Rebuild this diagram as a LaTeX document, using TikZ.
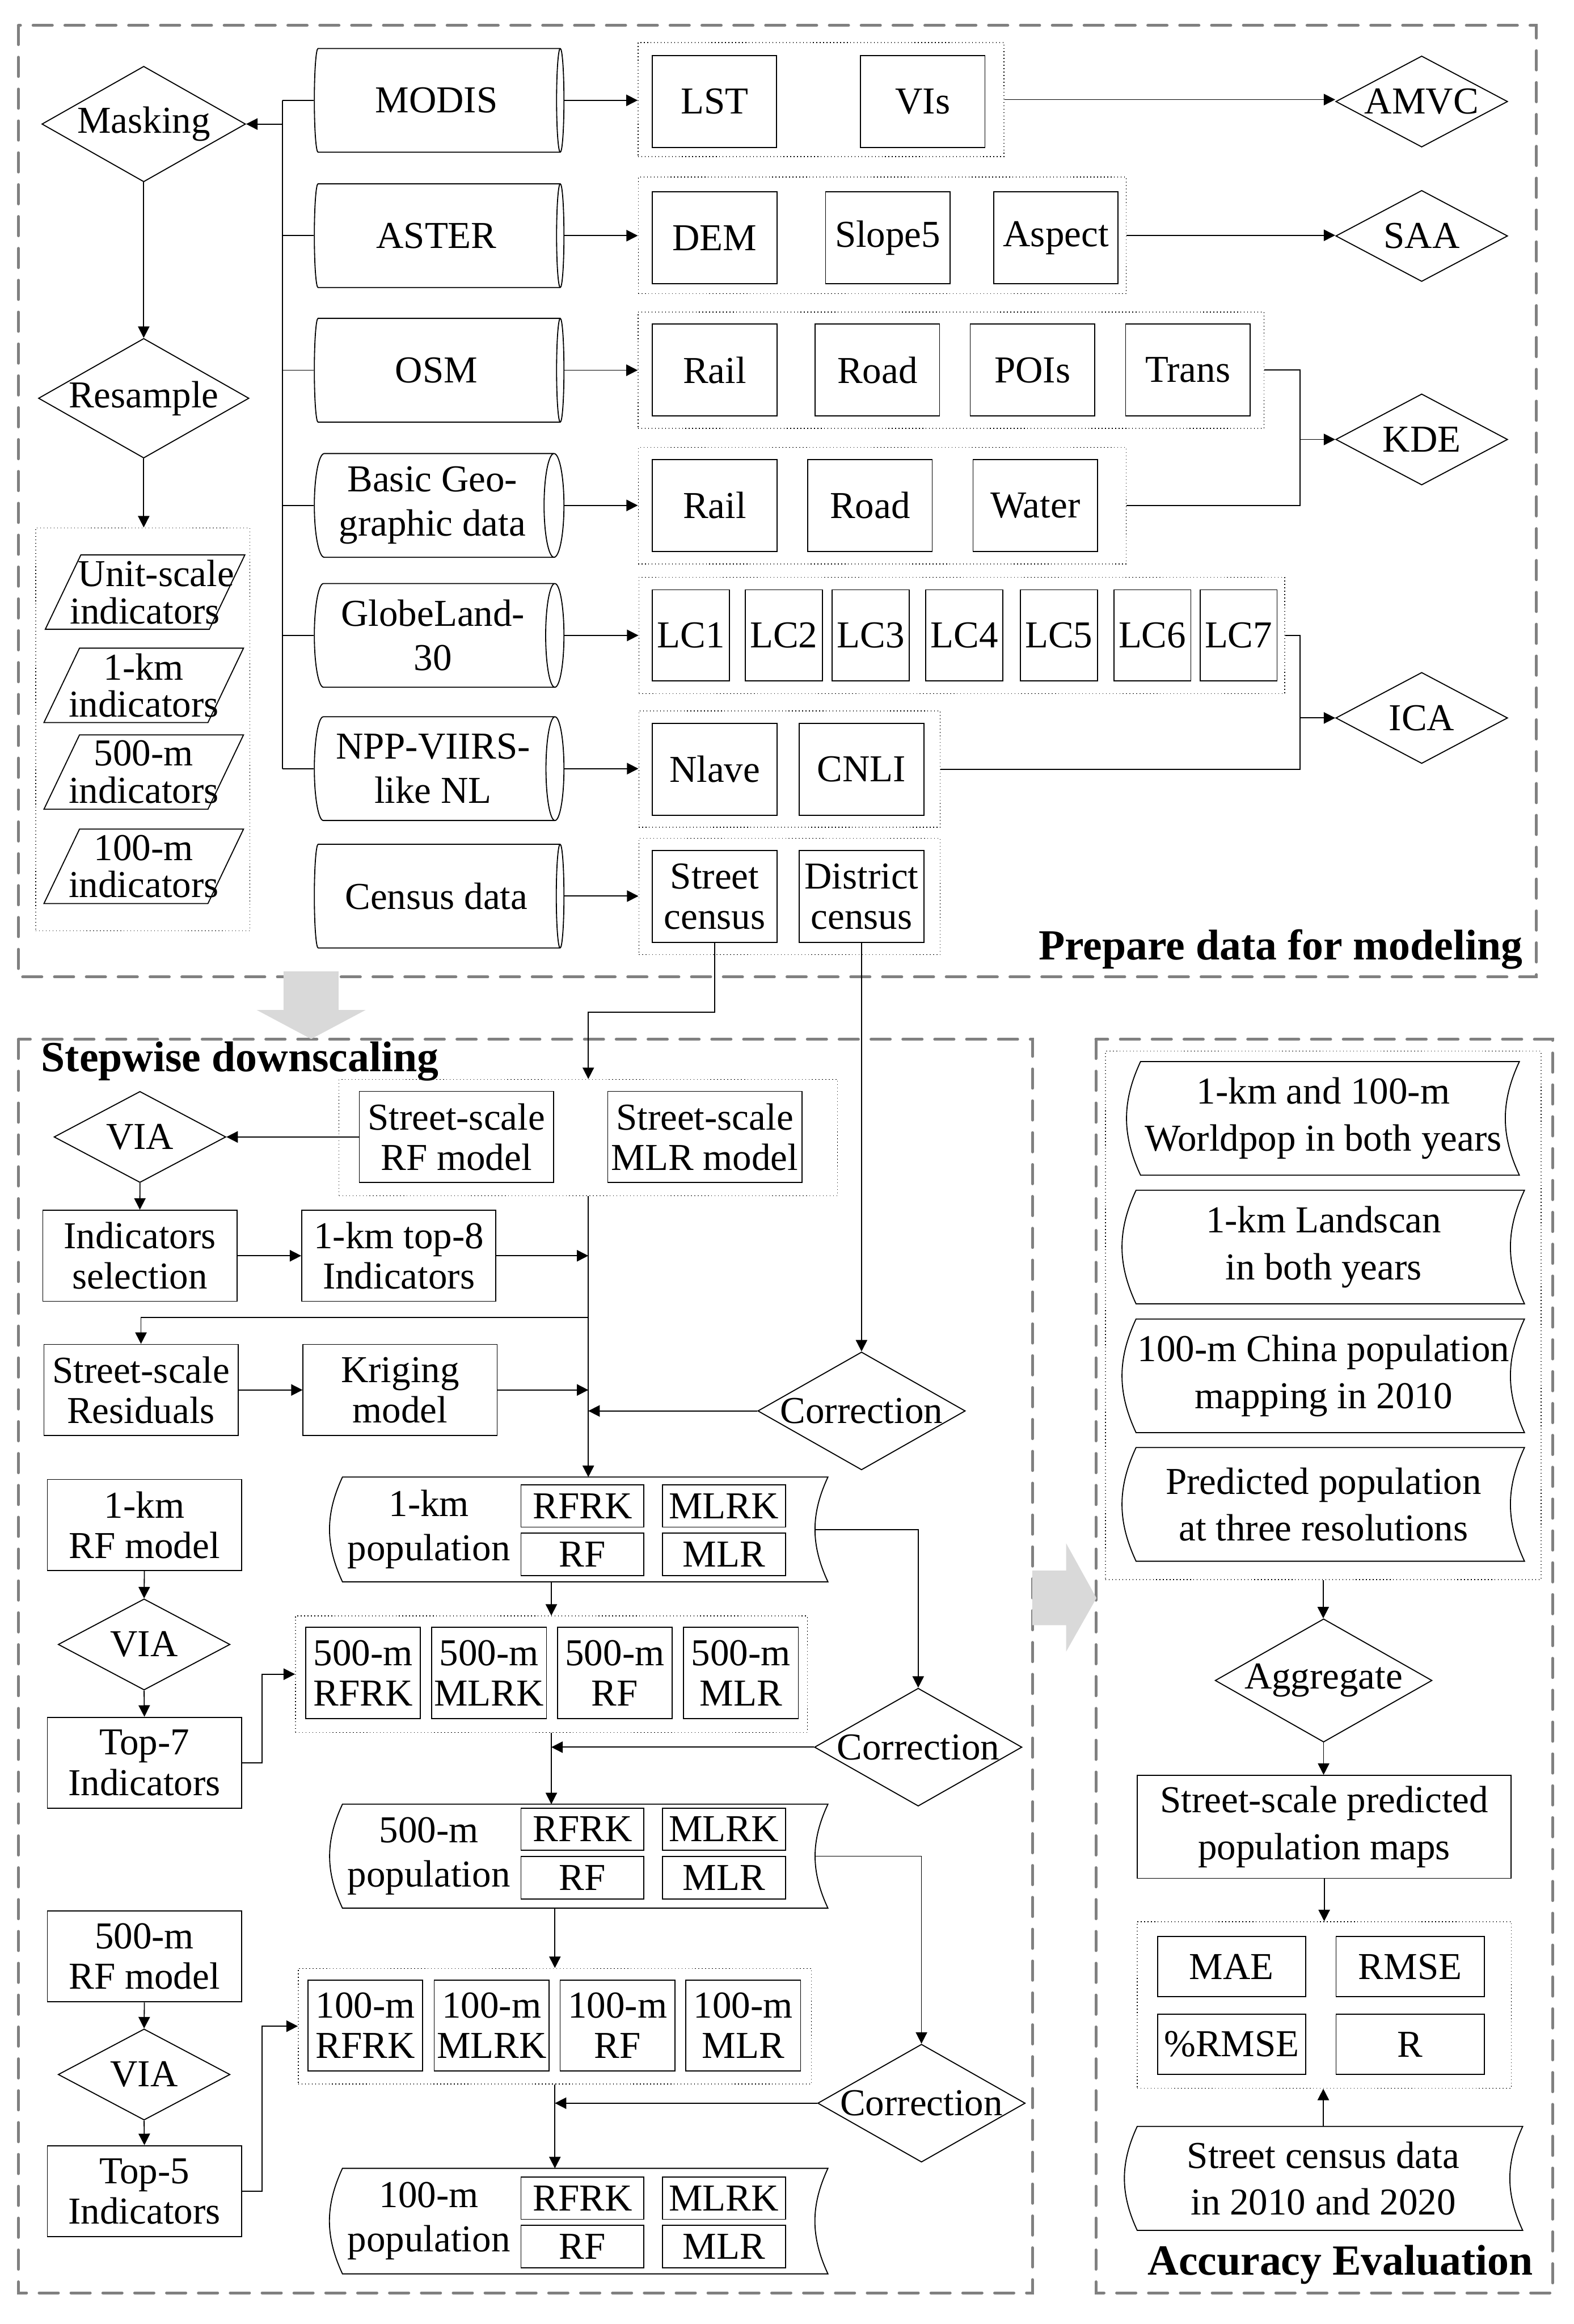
\documentclass[tikz,border=0pt]{standalone}
\usepackage{fontspec}
\setmainfont{Liberation Serif}
\usepackage{xcolor}
\usepackage{tikz}
\usetikzlibrary{shapes, shapes.geometric, arrows.meta, positioning, calc}

\newcommand{\storedframe}[1]{%
  \draw ([xshift=0.18cm]#1.north west) to[out=245,in=115] ([xshift=0.18cm]#1.south west)
    -- (#1.south east) to[out=115,in=245] (#1.north east) -- cycle;}
\newcommand{\paraframe}[1]{%
  \draw (#1.south west) -- ([xshift=0.48cm]#1.north west) -- (#1.north east)
    -- ([xshift=-0.48cm]#1.south east) -- cycle;}

\begin{document}
\begin{tikzpicture}[x=0.02cm, y=-0.02cm, line width=0.4pt,
  font=\fontsize{14.6}{15.5}\selectfont,
  outerframe/.style={draw=gray, line width=1.1pt, dash pattern=on 0.26cm off 0.17cm, line cap=round},
  box/.style={draw, rectangle, inner sep=1pt, align=center},
  dbox/.style={box, minimum width=1.68cm, minimum height=1.24cm},
  lcbox/.style={box, minimum width=1.04cm, minimum height=1.23cm},
  mbox/.style={box, minimum width=2.62cm, minimum height=1.23cm},
  rbox/.style={box, minimum width=1.55cm, minimum height=1.23cm},
  pbox/.style={box, minimum width=1.66cm, minimum height=0.57cm},
  ebox/.style={box, minimum width=2.0cm, minimum height=0.81cm},
  grp/.style={draw, densely dotted, line width=0.3pt, inner sep=0pt},
  drum/.style={cylinder, draw, aspect=0.24, minimum height=3.37cm, minimum width=1.40cm,
    inner sep=1pt, align=center, font=\fontsize{14.6}{17}\selectfont},
  decL/.style={diamond, draw, aspect=1.76, inner sep=0pt, minimum width=2.75cm, minimum height=1.56cm},
  decS/.style={diamond, draw, aspect=1.89, inner sep=0pt, minimum width=2.32cm, minimum height=1.23cm},
  para/.style={draw=none, inner sep=0pt, align=center, minimum width=2.68cm, minimum height=0.99cm,
    font=\fontsize{14.6}{14.3}\selectfont},
  lbl/.style={align=center, inner sep=0pt, font=\fontsize{14.6}{17}\selectfont},
  store/.style={draw=none, inner sep=1pt, align=center, font=\fontsize{14.6}{18}\selectfont},
  ttl/.style={inner sep=0pt, font=\fontsize{16.5}{19}\selectfont\bfseries},
  arr/.style={-{Triangle[length=4.4pt,width=4.4pt]}}]

\useasboundingbox (0,0) rectangle (1062,1568);
\fill[white] (0,0) rectangle (1062,1568);

% Section frames
\draw[outerframe] (12.4,17.1) rectangle (1037,659.1);
\draw[outerframe] (12.4,701.2) rectangle (696.8,1547);
\draw[outerframe] (739.6,701.2) rectangle (1047.8,1547);

% Prepare data for modeling
\node[decL] (mask) at (97,83.7) {Masking};
\node[decL] (resample) at (97,268.7) {Resample};
\node[grp, minimum width=2.89cm, minimum height=5.44cm] (indgrp) at (96.35,492.1) {};
\node[para] (ind1) at (97.9,399.5) {\hspace*{0.3cm}Unit-scale\\indicators};
\paraframe{ind1}
\node[para] (ind2) at (97,462.4) {1-km\\indicators};
\paraframe{ind2}
\node[para] (ind3) at (97,520.9) {500-m\\indicators};
\paraframe{ind3}
\node[para] (ind4) at (97,584.5) {100-m\\indicators};
\paraframe{ind4}

\node[drum, anchor=west] (modis) at (211.8,67.7) {MODIS};
\node[drum, anchor=west] (aster) at (211.8,159) {ASTER};
\node[drum, anchor=west] (osm) at (211.8,249.8) {OSM};
\node[drum, anchor=west] (basic) at (211.8,341) {Basic Geo-\\graphic data};
\node[drum, anchor=west] (globe) at (211.8,428.7) {GlobeLand-\\30};
\node[drum, anchor=west] (npp) at (211.8,518.6) {NPP-VIIRS-\\like NL};
\node[drum, anchor=west] (census) at (211.8,604.6) {Census data};

\node[grp, minimum width=4.94cm, minimum height=1.54cm] (g1) at (554.1,67.2) {};
\node[grp, minimum width=6.59cm, minimum height=1.57cm] (g2) at (595.45,158.75) {};
\node[grp, minimum width=8.45cm, minimum height=1.57cm] (g3) at (641.85,249.75) {};
\node[grp, minimum width=6.59cm, minimum height=1.57cm] (g4) at (595.45,341.2) {};
\node[grp, minimum width=8.72cm, minimum height=1.57cm] (g5) at (649.1,428.75) {};
\node[grp, minimum width=4.07cm, minimum height=1.57cm] (g6) at (532.85,518.95) {};
\node[grp, minimum width=4.07cm, minimum height=1.57cm] (g7) at (532.85,604.9) {};

\node[dbox] (lst) at (482.2,68.5) {LST};
\node[dbox] (vis) at (622.75,68.5) {VIs};
\node[dbox] (dem) at (482.3,160.5) {DEM};
\node[dbox] (slope) at (599.15,160.5) {Slope5};
\node[dbox] (aspect) at (712.65,160.5) {Aspect};
\node[dbox] (rail1) at (482.35,249.7) {Rail};
\node[dbox] (road1) at (592.15,249.7) {Road};
\node[dbox] (pois) at (696.8,249.7) {POIs};
\node[dbox] (trans) at (801.65,249.7) {Trans};
\node[dbox] (rail2) at (482.35,341.1) {Rail};
\node[dbox] (road2) at (587.15,341.1) {Road};
\node[dbox] (water) at (698.7,341.1) {Water};
\node[lcbox] (lc1) at (466.3,428.7) {LC1};
\node[lcbox] (lc2) at (529,428.7) {LC2};
\node[lcbox] (lc3) at (587.6,428.7) {LC3};
\node[lcbox] (lc4) at (650.8,428.7) {LC4};
\node[lcbox] (lc5) at (714.6,428.7) {LC5};
\node[lcbox] (lc6) at (777.7,428.7) {LC6};
\node[lcbox] (lc7) at (835.9,428.7) {LC7};
\node[dbox] (nlave) at (482.35,519) {Nlave};
\node[dbox] (cnli) at (581.45,519) {CNLI};
\node[dbox] (scs) at (482.35,604.8) {Street\\census};
\node[dbox] (dcs) at (581.45,604.8) {District\\census};

\node[decS] (amvc) at (959.5,68.5) {AMVC};
\node[decS] (saa) at (959.5,159.2) {SAA};
\node[decS] (kde) at (959.5,296.5) {KDE};
\node[decS] (ica) at (959.5,484.4) {ICA};

\coordinate (tk) at (190.6,83.7);
\coordinate (kj) at (877.4,296.5);
\coordinate (ij) at (877.4,484.4);

\draw (modis.west -| tk) -- (npp.west -| tk);
\draw (modis.west) -- (modis.west -| tk);
\draw (aster.west) -- (aster.west -| tk);
\draw (osm.west) -- (osm.west -| tk);
\draw (basic.west) -- (basic.west -| tk);
\draw (globe.west) -- (globe.west -| tk);
\draw (npp.west) -- (npp.west -| tk);
\draw[arr] (tk) -- (mask.east);
\draw[arr] (mask.south) -- (resample.north);
\draw[arr] (resample.south) -- (resample.south |- indgrp.north);

\draw[arr] (modis.east) -- (modis.east -| g1.west);
\draw[arr] (aster.east) -- (aster.east -| g2.west);
\draw[arr] (osm.east) -- (osm.east -| g3.west);
\draw[arr] (basic.east) -- (basic.east -| g4.west);
\draw[arr] (globe.east) -- (globe.east -| g5.west);
\draw[arr] (npp.east) -- (npp.east -| g6.west);
\draw[arr] (census.east) -- (census.east -| g7.west);

\draw[arr] (g1.east) -- (g1.east -| amvc.west);
\draw[arr] (g2.east) -- (g2.east -| saa.west);
\draw (g3.east) -| (kj) |- (g4.east);
\draw[arr] (kj) -- (kde.west);
\draw (g5.east) -| (ij) |- (g6.east);
\draw[arr] (ij) -- (ica.west);

\node[ttl, anchor=base east] (tprep) at (1028,647.5) {Prepare data for modeling};

% Stepwise downscaling
\node[ttl, anchor=base west] (tstep) at (27.5,722.8) {Stepwise downscaling};
\node[grp, minimum width=6.73cm, minimum height=1.57cm] (sgroup) at (397.05,767.5) {};
\node[mbox] (rfm) at (308,767.1) {Street-scale\\RF model};
\node[mbox] (mlrm) at (475.65,767.1) {Street-scale\\MLR model};
\node[decS] (via1) at (94.45,767.1) {VIA};
\node[mbox] (indsel) at (94.4,847.25) {Indicators\\selection};
\node[mbox] (top8) at (269.15,847.25) {1-km top-8\\Indicators};
\node[mbox] (resid) at (95.15,937.8) {Street-scale\\Residuals};
\node[mbox] (krig) at (270.05,937.8) {Kriging\\model};
\node[decL] (corr1) at (581.45,951.95) {Correction};
\coordinate (rb) at (397.05,888.8);

\draw[arr] (scs.south) |- ([yshift=0.9cm]sgroup.north) -| (sgroup.north);
\draw[arr] (dcs.south) -- (dcs.south |- corr1.north);
\draw[arr] (rfm.west) -- (via1.east);
\draw[arr] (via1.south) -- (indsel.north);
\draw[arr] (indsel.east) -- (top8.west);
\draw[arr] (top8.east) -- (top8.east -| sgroup.south);
\draw[arr] (rb) -| (resid.north);
\draw[arr] (resid.east) -- (krig.west);
\draw[arr] (krig.east) -- (krig.east -| sgroup.south);
\draw[arr] (corr1.west) -- (corr1.west -| sgroup.south);

% 1-km population
\node[store, minimum width=6.72cm, minimum height=1.40cm] (pop1) at (390.45,1031.9) {};
\storedframe{pop1}
\node[lbl] (pop1t) at (289.5,1031.9) {1-km\\population};
\node[pbox] (p1rfrk) at (393.1,1016.05) {RFRK};
\node[pbox] (p1mlrk) at (488.55,1016.05) {MLRK};
\node[pbox] (p1rf) at (393.1,1048.75) {RF};
\node[pbox] (p1mlr) at (488.55,1048.75) {MLR};
\draw[arr] (sgroup.south) -- (sgroup.south |- pop1.north);

\node[mbox] (rfkm) at (97.45,1028.9) {1-km\\RF model};
\node[decS] (via2) at (97.25,1109.5) {VIA};
\node[mbox] (top7) at (97.45,1189.35) {Top-7\\Indicators};
\draw[arr] (rfkm.south) -- (via2.north);
\draw[arr] (via2.south) -- (top7.north);

% 500-m step
\node[grp, minimum width=6.91cm, minimum height=1.57cm] (g500) at (372.1,1129.55) {};
\node[rbox] (b5rfrk) at (245,1128.75) {500-m\\RFRK};
\node[rbox] (b5mlrk) at (330.05,1128.75) {500-m\\MLRK};
\node[rbox] (b5rf) at (414.95,1128.75) {500-m\\RF};
\node[rbox] (b5mlr) at (500.05,1128.75) {500-m\\MLR};
\node[decL] (corr2) at (619.7,1178.8) {Correction};
\node[store, minimum width=6.72cm, minimum height=1.39cm] (pop500) at (390.45,1252.35) {};
\storedframe{pop500}
\node[lbl] (pop500t) at (289.5,1252.35) {500-m\\population};
\node[pbox] (p5rfrk) at (393.1,1234.15) {RFRK};
\node[pbox] (p5mlrk) at (488.55,1234.15) {MLRK};
\node[pbox] (p5rf) at (393.1,1266.85) {RF};
\node[pbox] (p5mlr) at (488.55,1266.85) {MLR};

\draw[arr] (top7.east) -- ++(0.27cm,0) |- (g500.west);
\draw[arr] (g500.north |- pop1.south) -- (g500.north);
\draw[arr] ([xshift=-0.17cm]pop1.east) -| (corr2.north);
\draw[arr] (g500.south) -- (g500.south |- pop500.north);
\draw[arr] (corr2.west) -- (corr2.west -| g500.south);

\node[mbox] (rf500) at (97.45,1319.95) {500-m\\RF model};
\node[decS] (via3) at (97.25,1399.65) {VIA};
\node[mbox] (top5) at (97.45,1478.4) {Top-5\\Indicators};
\draw[arr] (rf500.south) -- (via3.north);
\draw[arr] (via3.south) -- (top5.north);

% 100-m step
\node[grp, minimum width=6.93cm, minimum height=1.56cm] (g100) at (374.5,1367.05) {};
\node[rbox] (b1rfrk) at (246.55,1366.6) {100-m\\RFRK};
\node[rbox] (b1mlrk) at (331.85,1366.6) {100-m\\MLRK};
\node[rbox] (b1rf) at (416.75,1366.6) {100-m\\RF};
\node[rbox] (b1mlr) at (501.6,1366.6) {100-m\\MLR};
\node[decL] (corr3) at (621.9,1419) {Correction};
\node[store, minimum width=6.72cm, minimum height=1.41cm] (pop100) at (390.45,1498.55) {};
\storedframe{pop100}
\node[lbl] (pop100t) at (289.5,1498.55) {100-m\\population};
\node[pbox] (pmrfrk) at (393.1,1483.1) {RFRK};
\node[pbox] (pmmlrk) at (488.55,1483.1) {MLRK};
\node[pbox] (pmrf) at (393.1,1515.75) {RF};
\node[pbox] (pmmlr) at (488.55,1515.75) {MLR};

\draw[arr] (top5.east) -- ++(0.27cm,0) |- (g100.west);
\draw[arr] (g100.north |- pop500.south) -- (g100.north);
\draw[arr] ([xshift=-0.17cm]pop500.east) -| (corr3.north);
\draw[arr] (g100.south) -- (g100.south |- pop100.north);
\draw[arr] (corr3.west) -- (corr3.west -| g100.south);

% Accuracy evaluation
\node[grp, minimum width=5.88cm, minimum height=7.13cm] (agroup) at (893.05,887.45) {};
\node[store, minimum width=5.28cm, minimum height=1.52cm] (s1) at (893.1,754.55) {1-km and 100-m\\Worldpop in both years};
\storedframe{s1}
\node[store, minimum width=5.41cm, minimum height=1.52cm] (s2) at (893.3,841.35) {1-km Landscan\\in both years};
\storedframe{s2}
\node[store, minimum width=5.41cm, minimum height=1.52cm] (s3) at (893.3,928.25) {100-m China population\\mapping in 2010};
\storedframe{s3}
\node[store, minimum width=5.41cm, minimum height=1.52cm] (s4) at (893.3,1015) {Predicted population\\at three resolutions};
\storedframe{s4}
\node[decL] (agg) at (893.3,1133.8) {Aggregate};
\node[box, minimum width=5.05cm, minimum height=1.39cm, font=\fontsize{14.6}{18}\selectfont] (ssp) at (893.7,1232.55) {Street-scale predicted\\population maps};
\node[grp, minimum width=5.05cm, minimum height=2.25cm] (mgroup) at (893.7,1352.75) {};
\node[ebox] (mae) at (831.2,1326.9) {MAE};
\node[ebox] (rmse) at (951.7,1326.9) {RMSE};
\node[ebox] (prmse) at (831.2,1379.3) {\%RMSE};
\node[ebox] (rr) at (951.7,1379.3) {R};
\node[store, minimum width=5.37cm, minimum height=1.39cm] (scd) at (893.1,1469.75) {Street census data\\in 2010 and 2020};
\storedframe{scd}

\draw[arr] (agroup.south) -- (agroup.south |- agg.north);
\draw[arr] (agg.south) -- (agg.south |- ssp.north);
\draw[arr] (ssp.south) -- (ssp.south |- mgroup.north);
\draw[arr] (scd.north) -- (scd.north |- mgroup.south);

\node[ttl, anchor=base east] (tacc) at (1035,1535) {Accuracy Evaluation};

% Block arrows between sections
\fill[gray!30] (191.4,655.4) -- (228.5,655.4) -- (228.5,681.4) -- (246.8,681.4) -- (210,701)
  -- (173.2,681.4) -- (191.4,681.4) -- cycle;
\fill[gray!30] (696.7,1059.7) -- (719.5,1059.7) -- (719.5,1041.2) -- (740,1078.2)
  -- (719.5,1114.4) -- (719.5,1096.5) -- (696.7,1096.5) -- cycle;
\end{tikzpicture}
\end{document}
